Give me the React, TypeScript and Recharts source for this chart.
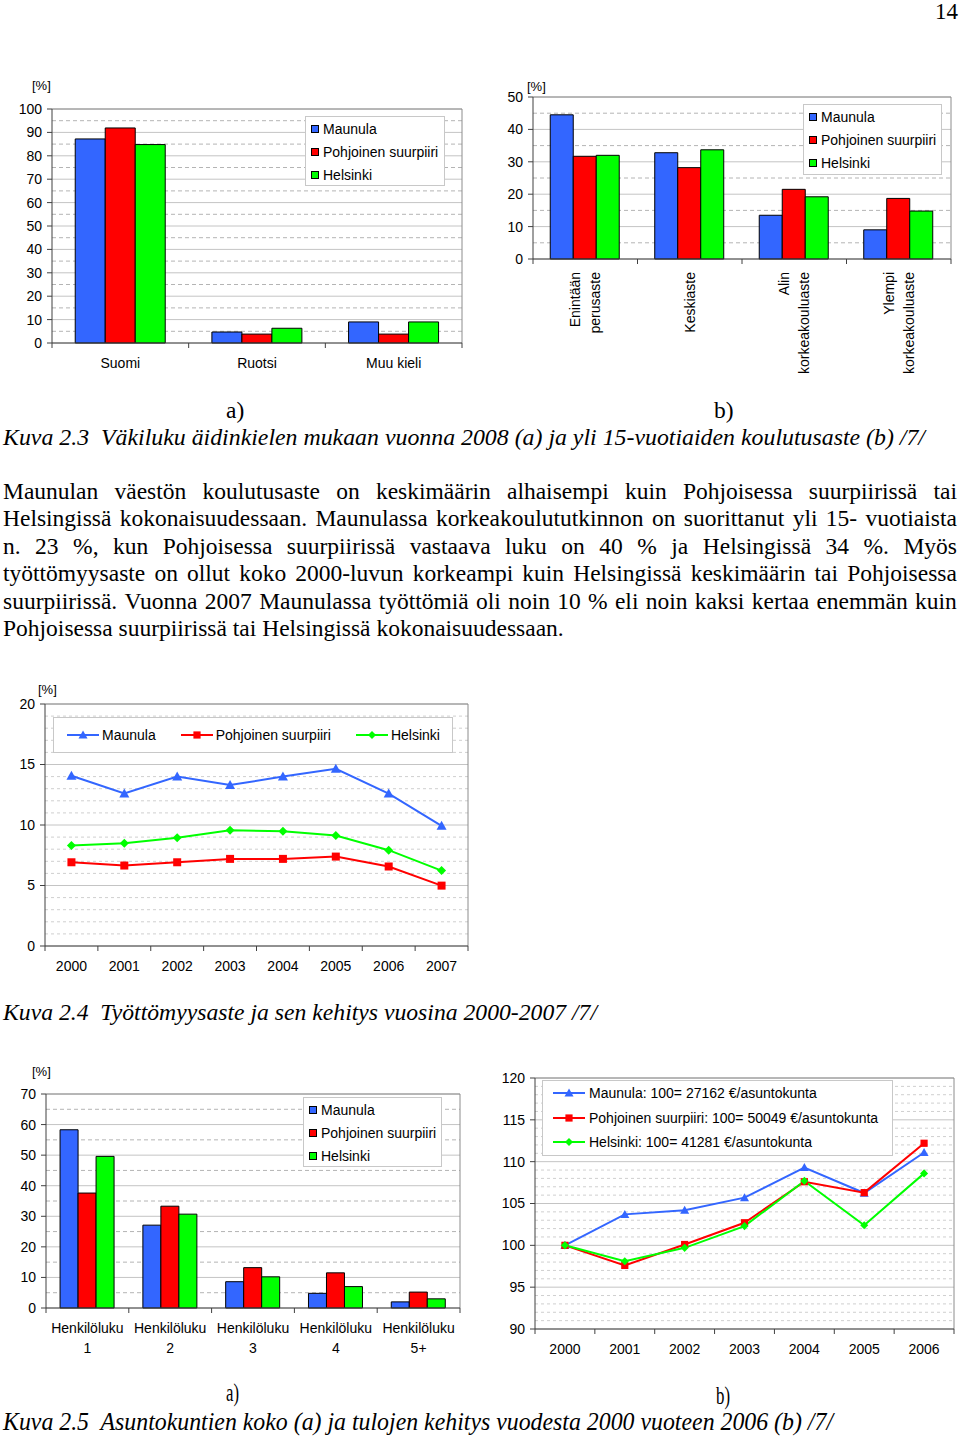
import React from 'react'
import { BarChart, Bar, ComposedChart, Line, XAxis, YAxis, CartesianGrid } from 'recharts'

// page 14 of the Maunula report: five small Excel-style charts + body text

const SANS = '"Liberation Sans", Arial, sans-serif'
const SERIF = '"Liberation Serif", "Times New Roman", serif'
const AXIS = '#404040'
const FRAME = '#8c8c8c'
const GRID_SOLID = '#c4c4c4'
const GRID_DASH = '#b4b4b4'

// ---- series ----
const seriesNames = ['Maunula', 'Pohjoinen suurpiiri', 'Helsinki']
const seriesColors = ['#3366FF', '#FF0000', '#00FF00']
const seriesMarkers = ['triangle', 'square', 'diamond']

// Kuva 2.3 a) äidinkieli
const langCats = ['Suomi', 'Ruotsi', 'Muu kieli']
const langMaunula = [87.2, 4.7, 9.0]
const langPohjoinen = [91.9, 3.8, 3.8]
const langHelsinki = [84.8, 6.3, 9.0]
const langTicks = [0, 10, 20, 30, 40, 50, 60, 70, 80, 90, 100]
const langMinor = [5, 15, 25, 35, 45, 55, 65, 75, 85, 95]

// Kuva 2.3 b) koulutusaste
const eduCats = ['Enintään\nperusaste', 'Keskiaste', 'Alin\nkorkeakouluaste', 'Ylempi\nkorkeakouluaste']
const eduMaunula = [44.5, 32.8, 13.5, 9.0]
const eduPohjoinen = [31.7, 28.2, 21.5, 18.7]
const eduHelsinki = [32.0, 33.7, 19.2, 14.8]
const eduTicks = [0, 10, 20, 30, 40, 50]
const eduMinor = [5, 15, 25, 35, 45]

// Kuva 2.4 työttömyysaste
const unempYears = ['2000', '2001', '2002', '2003', '2004', '2005', '2006', '2007']
const unempMaunula = [14.07, 12.6, 14.0, 13.3, 14.0, 14.65, 12.6, 9.93]
const unempPohjoinen = [6.92, 6.65, 6.92, 7.2, 7.2, 7.39, 6.57, 4.99]
const unempHelsinki = [8.3, 8.5, 8.94, 9.57, 9.49, 9.13, 7.92, 6.23]
const unempTicks = [0, 5, 10, 15, 20]
const unempMinor = [1, 2, 3, 4, 6, 7, 8, 9, 11, 12, 13, 14, 16, 17, 18, 19]

// Kuva 2.5 a) asuntokuntien koko
const hhCats = ['Henkilöluku\n1', 'Henkilöluku\n2', 'Henkilöluku\n3', 'Henkilöluku\n4', 'Henkilöluku\n5+']
const hhMaunula = [58.3, 27.1, 8.6, 4.8, 2.0]
const hhPohjoinen = [37.6, 33.3, 13.2, 11.5, 5.2]
const hhHelsinki = [49.6, 30.7, 10.2, 7.0, 3.0]
const hhTicks = [0, 10, 20, 30, 40, 50, 60, 70]
const hhMinor = [5, 15, 25, 35, 45, 55, 65]

// Kuva 2.5 b) tulojen kehitys (indeksi 2000 = 100)
const incomeYears = ['2000', '2001', '2002', '2003', '2004', '2005', '2006']
const incomeMaunula = [100, 103.7, 104.2, 105.7, 109.3, 106.25, 111.1]
const incomePohjoinen = [100, 97.6, 100.1, 102.7, 107.6, 106.3, 112.2]
const incomeHelsinki = [100, 98.1, 99.7, 102.3, 107.7, 102.4, 108.6]
const incomeLegend = [
  'Maunula: 100= 27162 €/asuntokunta',
  'Pohjoinen suurpiiri: 100= 50049 €/asuntokunta',
  'Helsinki: 100= 41281 €/asuntokunta',
]
const incomeTicks = [90, 95, 100, 105, 110, 115, 120]
const incomeMinor = [91, 92, 93, 94, 96, 97, 98, 99, 101, 102, 103, 104, 106, 107, 108, 109, 111, 112, 113, 114, 116, 117, 118, 119]

// ---- text ----
const paragraph = [
  'Maunulan väestön koulutusaste on keskimäärin alhaisempi kuin Pohjoisessa suurpiirissä tai',
  'Helsingissä kokonaisuudessaan. Maunulassa korkeakoulututkinnon on suorittanut yli 15- vuotiaista',
  'n. 23 %, kun Pohjoisessa suurpiirissä vastaava luku on 40 % ja Helsingissä 34 %. Myös',
  'työttömyysaste on ollut koko 2000-luvun korkeampi kuin Helsingissä keskimäärin tai Pohjoisessa',
  'suurpiirissä. Vuonna 2007 Maunulassa työttömiä oli noin 10 % eli noin kaksi kertaa enemmän kuin',
  'Pohjoisessa suurpiirissä tai Helsingissä kokonaisuudessaan.',
]

type Row = { cat: string; s0: number; s1: number; s2: number }
const toRows = (cats: string[], a: number[], b: number[], c: number[]): Row[] =>
  cats.map((cat, i) => ({ cat, s0: a[i], s1: b[i], s2: c[i] }))

interface Frame {
  left: number; top: number; width: number; height: number
  margin: { top: number; right: number; bottom: number; left: number }
  yWidth: number; xHeight: number
}

const topEdge = ({ offset }: any) => [offset.top]
const rightEdge = ({ offset }: any) => [offset.left + offset.width]

function Marker({ cx, cy, kind, color, s = 1 }: any) {
  if (cx == null || cy == null) return null
  if (kind === 'triangle')
    return <polygon points={`${cx},${cy - 5 * s} ${cx + 5 * s},${cy + 4 * s} ${cx - 5 * s},${cy + 4 * s}`} fill={color} />
  if (kind === 'square')
    return <rect x={cx - 4 * s} y={cy - 4 * s} width={8 * s} height={8 * s} fill={color} />
  return <polygon points={`${cx},${cy - 4.5 * s} ${cx + 4.5 * s},${cy} ${cx},${cy + 4.5 * s} ${cx - 4.5 * s},${cy}`} fill={color} />
}

// category tick + the Excel-style tick marks on band edges
function makeTick(frame: Frame, count: number, gap: number, rotated = false) {
  const plotW = frame.width - frame.margin.left - frame.margin.right - frame.yWidth
  return (p: any) => {
    const { x, y, payload, index } = p
    const half = payload?.offset > 0 ? payload.offset : plotW / count / 2
    const axisY = y - gap
    const lines = String(payload.value).split('\n')
    const edge = (ex: number, k: string) => (
      <line key={k} x1={ex} x2={ex} y1={axisY} y2={axisY + 5} stroke={AXIS} />
    )
    return (
      <g key={`t${index}`}>
        {edge(x - half, 'l')}
        {index === count - 1 && edge(x + half, 'r')}
        {rotated ? (
          <g transform={`translate(${x},${y}) rotate(-90)`}>
            {lines.map((l, i) => (
              <text key={i} x={0} y={(i - (lines.length - 1) / 2) * 20 + 5} textAnchor="end"
                fontSize={14} fontFamily={SANS} fill="#000">{l}</text>
            ))}
          </g>
        ) : (
          <text x={x} y={y} textAnchor="middle" fontSize={14} fontFamily={SANS} fill="#000">
            {lines.map((l, i) => (
              <tspan key={i} x={x} dy={i === 0 ? '0.71em' : 20}>{l}</tspan>
            ))}
          </text>
        )}
      </g>
    )
  }
}

function yAxisProps(frame: Frame, domain: number[], ticks: number[]) {
  return {
    width: frame.yWidth,
    domain,
    ticks,
    interval: 0 as const,
    tickSize: 5,
    tickMargin: 5,
    axisLine: { stroke: AXIS },
    tickLine: { stroke: AXIS },
    tick: { fontSize: 14, fill: '#000', fontFamily: SANS },
  }
}

function BarPanel({ frame, data, domain, ticks, minor, gap, rotated, labelGap }: any) {
  return (
    <div style={{ position: 'absolute', left: frame.left, top: frame.top }}>
      <BarChart width={frame.width} height={frame.height} data={data} margin={frame.margin}
        barCategoryGap={gap} barGap={0}>
        <CartesianGrid vertical={false} stroke={GRID_SOLID} />
        <CartesianGrid vertical={false} stroke={GRID_DASH} strokeDasharray="4 3" horizontalValues={minor} />
        <CartesianGrid stroke={FRAME} horizontalCoordinatesGenerator={topEdge} verticalCoordinatesGenerator={rightEdge} />
        <XAxis dataKey="cat" interval={0} height={frame.xHeight} tickLine={false} tickSize={0}
          tickMargin={labelGap} axisLine={{ stroke: AXIS }}
          tick={makeTick(frame, data.length, labelGap, rotated)} />
        <YAxis {...yAxisProps(frame, domain, ticks)} />
        {seriesColors.map((c, i) => (
          <Bar key={i} dataKey={`s${i}`} fill={c} stroke="#000" strokeWidth={1} isAnimationActive={false} />
        ))}
      </BarChart>
    </div>
  )
}

function LinePanel({ frame, data, domain, ticks, minor, s }: any) {
  return (
    <div style={{ position: 'absolute', left: frame.left, top: frame.top }}>
      <ComposedChart width={frame.width} height={frame.height} data={data} margin={frame.margin}>
        <CartesianGrid vertical={false} stroke={GRID_SOLID} />
        <CartesianGrid vertical={false} stroke="#cfcfcf" strokeDasharray="3 3" horizontalValues={minor} />
        <CartesianGrid stroke={FRAME} horizontalCoordinatesGenerator={topEdge} verticalCoordinatesGenerator={rightEdge} />
        <XAxis dataKey="cat" scale="band" interval={0} height={frame.xHeight} tickLine={false} tickSize={0}
          tickMargin={15} axisLine={{ stroke: AXIS }} tick={makeTick(frame, data.length, 15)} />
        <YAxis {...yAxisProps(frame, domain, ticks)} />
        {seriesColors.map((c, i) => (
          <Line key={i} type="linear" dataKey={`s${i}`} stroke={c} strokeWidth={2} activeDot={false}
            isAnimationActive={false}
            dot={(p: any) => <Marker key={`d${i}-${p.index}`} cx={p.cx} cy={p.cy} kind={seriesMarkers[i]} color={c} s={s} />} />
        ))}
      </ComposedChart>
    </div>
  )
}

function BarLegend({ left, top, width, height }: any) {
  return (
    <div style={{
      position: 'absolute', left, top, width, height, boxSizing: 'border-box',
      border: '1px solid #c8c8c8', background: '#fff', fontFamily: SANS, fontSize: 14,
    }}>
      {seriesNames.map((n, i) => (
        <div key={n} style={{ display: 'flex', alignItems: 'center', height: 23, paddingLeft: 5 }}>
          <span style={{
            width: 8, height: 8, boxSizing: 'border-box', background: seriesColors[i],
            border: '1px solid #000', marginRight: 4, flex: 'none',
          }} />
          <span style={{ whiteSpace: 'nowrap' }}>{n}</span>
        </div>
      ))}
    </div>
  )
}

function LineSample({ i }: { i: number }) {
  return (
    <svg width={32} height={12} style={{ flex: 'none' }}>
      <line x1={0} x2={32} y1={6} y2={6} stroke={seriesColors[i]} strokeWidth={2} />
      <Marker cx={16} cy={6} kind={seriesMarkers[i]} color={seriesColors[i]} s={0.9} />
    </svg>
  )
}

function Pct({ left, cy }: any) {
  return (
    <div style={{ position: 'absolute', left, top: cy - 8, fontFamily: SANS, fontSize: 13, lineHeight: '16px' }}>
      [%]
    </div>
  )
}

function SerifText({ text, left, cy, size = 23.5, italic = false, length, scaleBox }: any) {
  return (
    <svg style={{ position: 'absolute', left: 0, top: cy - 20 }} width={960} height={40}>
      <text x={left} y={20 + size * 0.32} fontFamily={SERIF} fontSize={size}
        fontStyle={italic ? 'italic' : 'normal'} style={{ whiteSpace: 'pre' }}
        textLength={length} lengthAdjust={length ? 'spacingAndGlyphs' : undefined}>{text}</text>
    </svg>
  )
}

function JustifiedLine({ text, cy, last }: any) {
  return (
    <div style={{
      position: 'absolute', left: 3, top: cy - 14, width: last ? 'auto' : 954, height: 28,
      display: 'flex', justifyContent: last ? 'flex-start' : 'space-between', gap: last ? '0.25em' : 0,
      fontFamily: SERIF, fontSize: 23.5, lineHeight: '28px', whiteSpace: 'nowrap',
    }}>
      {text.split(' ').map((w: string, i: number) => <span key={i}>{w}</span>)}
    </div>
  )
}

const fLang: Frame = { left: 0, top: 70, width: 470, height: 320, margin: { top: 39, right: 8, bottom: 7, left: 0 }, yWidth: 52, xHeight: 40 }
const fEdu: Frame = { left: 490, top: 70, width: 470, height: 320, margin: { top: 27, right: 9, bottom: 11, left: 0 }, yWidth: 43, xHeight: 120 }
const fUnemp: Frame = { left: 0, top: 690, width: 470, height: 300, margin: { top: 14, right: 2, bottom: 4, left: 0 }, yWidth: 45, xHeight: 40 }
const fHh: Frame = { left: 0, top: 1070, width: 470, height: 300, margin: { top: 24, right: 10, bottom: 7, left: 0 }, yWidth: 46, xHeight: 55 }
const fIncome: Frame = { left: 490, top: 1070, width: 470, height: 300, margin: { top: 8, right: 6, bottom: 5, left: 0 }, yWidth: 45, xHeight: 36 }

export default function App() {
  const langData = toRows(langCats, langMaunula, langPohjoinen, langHelsinki)
  const eduData = toRows(eduCats, eduMaunula, eduPohjoinen, eduHelsinki)
  const unempData = toRows(unempYears, unempMaunula, unempPohjoinen, unempHelsinki)
  const hhData = toRows(hhCats, hhMaunula, hhPohjoinen, hhHelsinki)
  const incomeData = toRows(incomeYears, incomeMaunula, incomePohjoinen, incomeHelsinki)

  return (
    <div style={{ position: 'absolute', left: 0, top: 0, width: 960, height: 1436, background: '#fff', overflow: 'hidden' }}>
      <SerifText text="14" left={935} cy={12} size={23} />

      {/* Kuva 2.3 */}
      <Pct left={32} cy={86} />
      <BarPanel frame={fLang} data={langData} domain={[0, 100]} ticks={langTicks} minor={langMinor} gap="17%" labelGap={15} />
      <BarLegend left={305} top={116} width={140} height={70} />

      <Pct left={527} cy={87} />
      <BarPanel frame={fEdu} data={eduData} domain={[0, 50]} ticks={eduTicks} minor={eduMinor} gap="16.5%" labelGap={13} rotated />
      <BarLegend left={803} top={104} width={139} height={71} />

      <SerifText text="a)" left={226} cy={410} />
      <SerifText text="b)" left={714} cy={410} />
      <SerifText text="Kuva 2.3  Väkiluku äidinkielen mukaan vuonna 2008 (a) ja yli 15-vuotiaiden koulutusaste (b) /7/"
        left={3} cy={437} italic length={922} />

      {paragraph.map((t, i) => (
        <JustifiedLine key={i} text={t} cy={491 + i * 27.4} last={i === paragraph.length - 1} />
      ))}

      {/* Kuva 2.4 */}
      <Pct left={38} cy={690} />
      <LinePanel frame={fUnemp} data={unempData} domain={[0, 20]} ticks={unempTicks} minor={unempMinor} s={1} />
      <div style={{
        position: 'absolute', left: 53, top: 717, width: 400, height: 36, boxSizing: 'border-box',
        border: '1px solid #c8c8c8', background: '#fff', display: 'flex', alignItems: 'center',
        paddingLeft: 13, gap: 25, fontFamily: SANS, fontSize: 14,
      }}>
        {seriesNames.map((n, i) => (
          <div key={n} style={{ display: 'flex', alignItems: 'center', gap: 3, whiteSpace: 'nowrap' }}>
            <LineSample i={i} />{n}
          </div>
        ))}
      </div>
      <SerifText text="Kuva 2.4  Työttömyysaste ja sen kehitys vuosina 2000-2007 /7/" left={3} cy={1012} italic length={594} />

      {/* Kuva 2.5 */}
      <Pct left={32} cy={1072} />
      <BarPanel frame={fHh} data={hhData} domain={[0, 70]} ticks={hhTicks} minor={hhMinor} gap="17%" labelGap={15} />
      <BarLegend left={303} top={1097} width={139} height={70} />

      <LinePanel frame={fIncome} data={incomeData} domain={[90, 120]} ticks={incomeTicks} minor={incomeMinor} s={0.9} />
      <div style={{
        position: 'absolute', left: 542, top: 1080, width: 351, height: 76, boxSizing: 'border-box',
        border: '1px solid #c8c8c8', background: '#fff', paddingLeft: 10, fontFamily: SANS, fontSize: 14,
      }}>
        {incomeLegend.map((n, i) => (
          <div key={n} style={{ display: 'flex', alignItems: 'center', gap: 4, height: 24.5, whiteSpace: 'nowrap' }}>
            <LineSample i={i} />{n}
          </div>
        ))}
      </div>

      <SerifText text="a)" left={226} cy={1393} size={26} length={13} />
      <SerifText text="b)" left={716} cy={1396} size={26} length={14} />
      <SerifText text="Kuva 2.5  Asuntokuntien koko (a) ja tulojen kehitys vuodesta 2000 vuoteen 2006 (b) /7/"
        left={3} cy={1422} italic size={25} length={830} />
    </div>
  )
}
